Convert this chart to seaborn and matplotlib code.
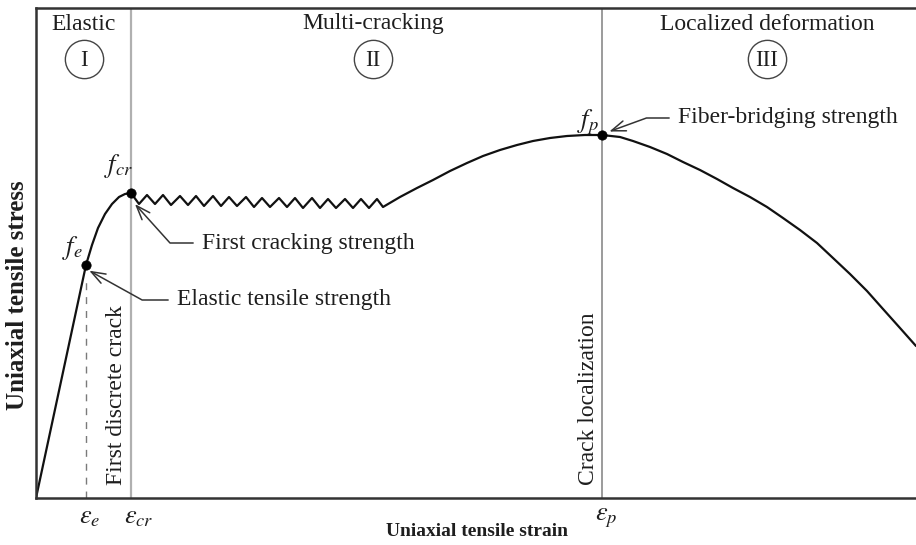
import numpy as np
import pandas as pd
import matplotlib
matplotlib.use("Agg")
import matplotlib.pyplot as plt
import seaborn as sns

# ---------------- data (arbitrary strain / stress units) ----------------
strain = [0, 50, 56, 62, 69, 76, 83, 89, 95,
          103, 111, 119, 127, 135, 144, 152, 160, 168, 177, 185, 193, 201, 210,
          218, 226, 234, 243, 251, 259, 267, 276, 284, 292, 300, 309, 317, 325,
          333, 341, 347,
          364, 381, 397, 414, 431, 447, 464, 481, 497, 514, 531, 549, 566,
          584, 597, 614, 631, 647, 664, 681, 697, 714, 731, 747, 764, 781, 797,
          814, 831, 847, 864, 880]
stress = [0, 233, 253, 270, 284, 294, 301, 304, 305,
          294, 303, 294, 303, 293, 302, 293, 302, 292, 302, 292, 301, 292, 301,
          291, 300, 291, 300, 291, 300, 290, 300, 290, 299, 290, 299, 290, 299,
          290, 299, 291,
          301, 310, 318, 327, 335, 342, 348, 353, 357, 360, 362, 363, 363,
          361, 357, 351, 344, 336, 328, 319, 310, 301, 291, 280, 268, 255, 240,
          224, 207, 189, 170, 152]

key_names = ["e", "cr", "p"]
key_strain = [50, 95, 566]
key_stress = [233, 305, 363]

stage_titles = ["Elastic", "Multi-cracking", "Localized deformation"]
stage_numerals = ["I", "II", "III"]
stage_x = [48, 337, 731]

notes = ["Elastic tensile strength", "First cracking strength", "Fiber-bridging strength"]

xlabel = "Uniaxial tensile strain"
ylabel = "Uniaxial tensile stress"

# ---------------- style ----------------
sns.set_style("white")
plt.rcParams["font.family"] = ["Liberation Serif", "DejaVu Serif"]
plt.rcParams["mathtext.fontset"] = "stix"

TXT = "#1e1e1e"
FS = 17

fig = plt.figure(figsize=(9.16, 5.45), dpi=100)
ax = fig.add_axes([36 / 916, 47 / 545, 880 / 916, 490 / 545])
ax.set_xlim(0, 880)
ax.set_ylim(0, 490)

df = pd.DataFrame({"strain": strain, "stress": stress})
sns.lineplot(data=df, x="strain", y="stress", sort=False, estimator=None,
             color="#111111", lw=1.6, ax=ax)

# vertical stage boundaries
ax.axvline(key_strain[1], color="#b0b0b0", lw=1.6, zorder=1)
ax.axvline(key_strain[2], color="#808080", lw=1.1, zorder=1)
ax.vlines(key_strain[0], 0, key_stress[0] - 17, colors="#7a7a7a", lw=1.0,
          linestyles=(0, (5, 5)), zorder=1)

# key points
kp = pd.DataFrame({"x": key_strain, "y": key_stress})
sns.scatterplot(data=kp, x="x", y="y", color="black", s=45, edgecolor="black",
                zorder=5, ax=ax)

# f labels
f_off = [(-14, 17), (-12, 27), (-14, 13)]
for n, xs, ys, (dx, dy) in zip(key_names, key_strain, key_stress, f_off):
    ax.text(xs + dx, ys + dy, r"$f_{%s}$" % n, fontsize=19, color=TXT,
            ha="center", va="center")

# strain labels under the axis
for n, xs in zip(key_names, key_strain):
    ax.text(xs - 7, -20, r"$\varepsilon_{%s}$" % n, fontsize=19, color=TXT,
            ha="left", va="center", clip_on=False)

# stage titles and numerals
for t, num, sx in zip(stage_titles, stage_numerals, stage_x):
    ax.text(sx, 474, t, fontsize=FS, color=TXT, ha="center", va="center")
    ax.scatter([sx], [439], s=760, facecolors="white", edgecolors="#444444",
               linewidths=1.0, zorder=4)
    ax.text(sx, 438, num, fontsize=16.5, color=TXT, ha="center", va="center",
            zorder=6)

# annotations with leader lines
ann_text_pos = [(141, 198), (166, 255), (642, 380)]
ann_tip = [(52, 228), (98, 295), (572, 366)]
ann_angleB = [151, 132, 20]
for t, (tx, ty), (px, py), aB in zip(notes, ann_text_pos, ann_tip, ann_angleB):
    ax.annotate(t, xy=(px, py), xytext=(tx, ty), fontsize=FS, color=TXT,
                ha="left", va="center",
                arrowprops=dict(arrowstyle="->,head_length=0.6,head_width=0.22",
                                color="#333333", lw=1.1, shrinkA=4, shrinkB=1,
                                connectionstyle="angle,angleA=0,angleB=%d,rad=0" % aB))

# vertical labels
ax.text(key_strain[1] - 14, 13, "First discrete crack", rotation=90,
        fontsize=FS, color=TXT, ha="center", va="bottom")
ax.text(key_strain[2] - 14, 13, "Crack localization", rotation=90,
        fontsize=FS, color=TXT, ha="center", va="bottom")

# axis labels
ax.set_xticks([])
ax.set_yticks([])
ax.set_xlabel("")
ax.set_ylabel("")
ax.text(441, -33, xlabel, fontsize=14, fontweight="bold", color=TXT,
        ha="center", va="center", clip_on=False)
ax.text(-18, 203, ylabel, fontsize=18, fontweight="bold", color=TXT,
        rotation=90, ha="center", va="center", clip_on=False)

for side in ["top", "left", "bottom"]:
    ax.spines[side].set_color("#333333")
    ax.spines[side].set_linewidth(1.8)
    ax.spines[side].set_visible(True)
ax.spines["right"].set_visible(False)

fig.savefig("out.png", dpi=100, facecolor="white")
